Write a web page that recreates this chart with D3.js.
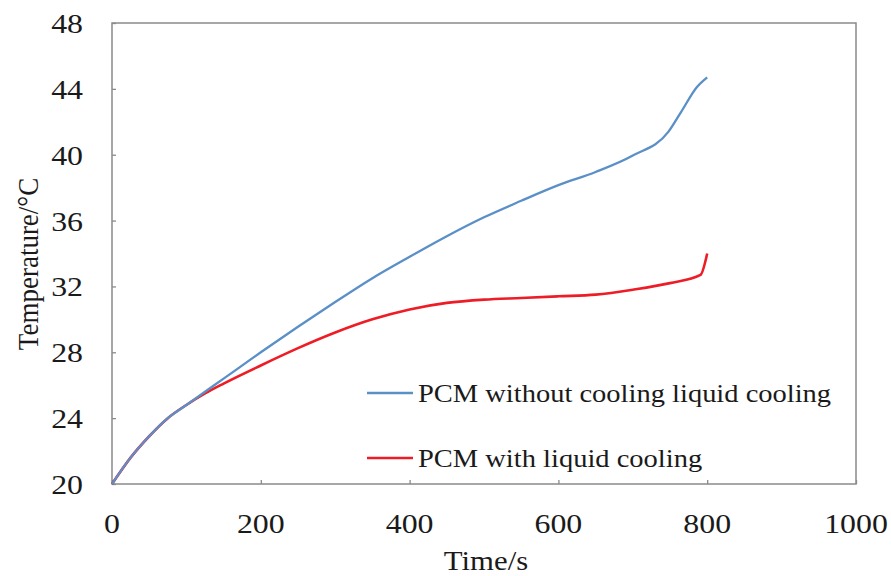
<!DOCTYPE html>
<html><head><meta charset="utf-8">
<script src="https://cdn.jsdelivr.net/npm/d3@7"></script>
<style>body{margin:0;background:#fff}svg{display:block}</style>
</head><body>
<script>
const xTicks = [0, 200, 400, 600, 800, 1000];
const yTicks = [20, 24, 28, 32, 36, 40, 44, 48];
const seriesNames = ["PCM without cooling liquid cooling", "PCM with liquid cooling"];
const timeBlue = [0, 25, 50, 75, 100, 125, 150, 200, 250, 300, 350, 400, 450, 500, 550, 600, 650, 700, 748, 765, 786, 800];
const tempBlue = [20, 21.6, 22.9, 24.0, 24.8, 25.6, 26.4, 28.0, 29.55, 31.05, 32.5, 33.8, 35.05, 36.2, 37.2, 38.15, 38.95, 39.95, 41.4, 42.6, 44.1, 44.7];
const timeRed = [0, 25, 50, 75, 100, 125, 150, 200, 250, 300, 350, 400, 450, 500, 550, 600, 650, 700, 750, 791, 800];
const tempRed = [20, 21.6, 22.9, 24.0, 24.8, 25.5, 26.1, 27.2, 28.25, 29.2, 30.0, 30.6, 31.0, 31.2, 31.3, 31.4, 31.5, 31.8, 32.2, 32.7, 34.0];

const W = 891, H = 576;
const m = {l: 112, t: 23, r: 856, b: 484};
const svg = d3.select("body").append("svg").attr("width", W).attr("height", H);
const x = d3.scaleLinear().domain([0, 1000]).range([m.l, m.r]);
const y = d3.scaleLinear().domain([20, 48]).range([m.b, m.t]);
const font = '"Liberation Serif", "Times New Roman", serif';
const frameCol = "#8a8a8a";

function txt(s, px, py, size, anchor, sx) {
  return svg.append("text")
    .attr("transform", `translate(${px},${py}) scale(${sx},1)`)
    .attr("text-anchor", anchor)
    .style("font-family", font).style("font-size", size + "px").attr("fill", "#1a1a1a")
    .text(s);
}

// frame
svg.append("rect").attr("x", m.l).attr("y", m.t).attr("width", m.r - m.l).attr("height", m.b - m.t)
  .attr("fill", "none").attr("stroke", frameCol).attr("stroke-width", 1.5);

// axes with inward ticks
const gx = svg.append("g").attr("transform", `translate(0,${m.b})`)
  .call(d3.axisBottom(x).tickValues(xTicks).tickSize(-4).tickFormat(""));
const gy = svg.append("g").attr("transform", `translate(${m.l},0)`)
  .call(d3.axisLeft(y).tickValues(yTicks).tickSize(-4).tickFormat(""));
[gx, gy].forEach(g => {
  g.select(".domain").remove();
  g.selectAll("line").attr("stroke", frameCol).attr("stroke-width", 1.3);
});

xTicks.forEach(v => txt(String(v), x(v), 533, 27, "middle", 1.18));
yTicks.forEach(v => txt(String(v), 83, y(v) + 10, 27, "end", 1.18));

txt("Time/s", 486, 570, 27, "middle", 1.14);
svg.append("text").attr("transform", "translate(38,264) rotate(-90) scale(1,1.12)")
  .attr("text-anchor", "middle").style("font-family", font).style("font-size", "27px").attr("fill", "#1a1a1a")
  .text("Temperature/°C");

const line = d3.line().x(d => x(d[0])).y(d => y(d[1])).curve(d3.curveMonotoneX);
const blue = "#5b8fc8", red = "#ee1c25";
svg.append("path").datum(timeRed.map((t, i) => [t, tempRed[i]]))
  .attr("d", line).attr("fill", "none").attr("stroke", red).attr("stroke-width", 2.6);
svg.append("path").datum(timeBlue.map((t, i) => [t, tempBlue[i]]))
  .attr("d", line).attr("fill", "none").attr("stroke", blue).attr("stroke-width", 2.3);

// legend
[[blue, 393, 0], [red, 458, 1]].forEach(([c, ly, i]) => {
  svg.append("line").attr("x1", 367).attr("x2", 413).attr("y1", ly).attr("y2", ly)
    .attr("stroke", c).attr("stroke-width", 2.6);
  txt(seriesNames[i], 418, ly + 9, 25, "start", 1.14);
});
</script>
</body></html>
